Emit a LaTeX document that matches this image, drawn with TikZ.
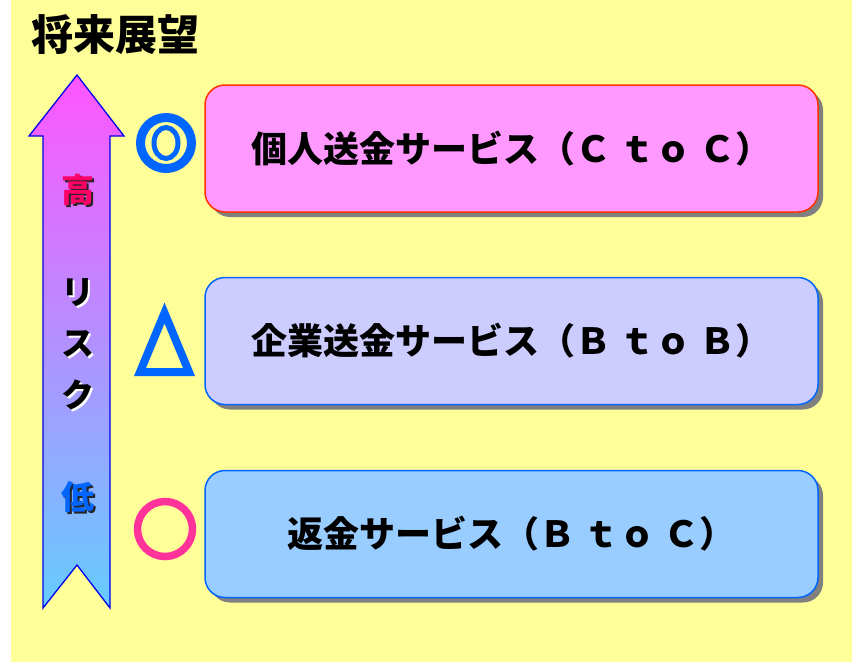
\documentclass[tikz,border=0pt]{standalone}
\usepackage{fontspec}
\newfontfamily\jp{Noto Sans CJK JP}
\usetikzlibrary{shadows}
\definecolor{bgyellow}{HTML}{FFFF99}
\definecolor{pinkfill}{HTML}{FF99FF}
\definecolor{redline}{HTML}{FF3300}
\definecolor{lavfill}{HTML}{CCCCFF}
\definecolor{bluefill}{HTML}{99CCFF}
\definecolor{blueline}{HTML}{0066FF}
\definecolor{shadowgray}{HTML}{808080}
\definecolor{arrowtop}{HTML}{FF55FF}
\definecolor{arrowmid}{HTML}{BB99FF}
\definecolor{arrowbot}{HTML}{66CCFF}
\definecolor{arrowline}{HTML}{0000EE}
\definecolor{symblue}{HTML}{0066FF}
\definecolor{sympink}{HTML}{FF3399}
\definecolor{highred}{HTML}{FF0066}
\newcommand{\shadowed}[3]{\makebox[0pt][l]{\hspace{2pt}\raisebox{-2pt}{\textcolor{#2}{#3}}}\textcolor{#1}{#3}}
\tikzset{
  svcbox/.style={rounded corners=20pt, line width=1.5pt, minimum width=613pt,
    minimum height=127pt, inner sep=0pt,
    copy shadow={shadow xshift=5pt, shadow yshift=-5pt, fill=shadowgray, draw=none},
    font=\jp\bfseries\fontsize{36}{40}\selectfont, text=black},
  arrowlbl/.style={font=\jp\bfseries\fontsize{33}{36}\selectfont, inner sep=0pt},
}
\begin{document}
\begin{tikzpicture}[x=1pt,y=1pt]
\fill[white] (0,0) rectangle (852,-662);
\fill[bgyellow] (11,0) rectangle (852,-662);
\useasboundingbox (0,0) rectangle (852,-662);

\node[font=\jp\bfseries\fontsize{42}{46}\selectfont, inner sep=0pt] (title) at (115,-35) {将来展望};

% risk arrow
\shade[top color=arrowtop, middle color=arrowmid, bottom color=arrowbot,
  draw=arrowline, line width=1.3pt, line join=miter]
  (77,-75) -- (124,-136) -- (110,-136) -- (110,-608) -- (77,-565)
  -- (43,-608) -- (43,-136) -- (29,-136) -- cycle;

\node[arrowlbl] (high) at (78,-191) {\shadowed{highred}{black!85}{高}};
\node[arrowlbl] (ri) at (78,-293.5) {\shadowed{black}{white}{リ}};
\node[arrowlbl] (su) at (78,-345) {\shadowed{black}{white}{ス}};
\node[arrowlbl] (ku) at (78,-396) {\shadowed{black}{white}{ク}};
\node[arrowlbl] (low) at (78,-498) {\shadowed{symblue}{black!85}{低}};

% symbols
\draw[symblue, line width=9pt] (166,-143) circle (25.5);
\draw[symblue, line width=5pt] (166,-143) ellipse (12 and 15.5);
\draw[symblue, line width=8pt, line join=miter] (164.5,-313) -- (189,-372) -- (140,-372) -- cycle;
\draw[sympink, line width=7.5pt] (165,-529) circle (27.5);

% service boxes
\node[svcbox, draw=redline, fill=pinkfill] (b1) at (511.5,-148.5) {個人送金サービス（Ｃ ｔｏ Ｃ）};
\node[svcbox, draw=blueline, fill=lavfill] (b2) at (511.5,-341) {企業送金サービス（Ｂ ｔｏ Ｂ）};
\node[svcbox, draw=blueline, fill=bluefill] (b3) at (511.5,-534) {返金サービス（Ｂ ｔｏ Ｃ）};
\end{tikzpicture}
\end{document}
